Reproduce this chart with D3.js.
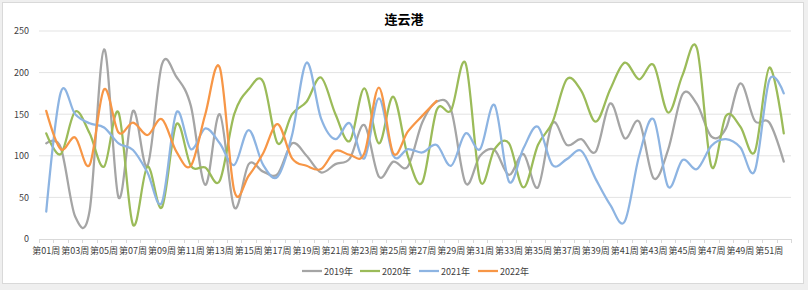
<!DOCTYPE html>
<html>
<head>
<meta charset="utf-8">
<script src="https://cdn.jsdelivr.net/npm/d3@7"></script>
<style>
  body { margin: 0; background: #efefef; }
  text { font-family: "Noto Sans CJK SC", "Noto Sans", sans-serif; }
</style>
</head>
<body>
<div id="chart"></div>
<script>
// weeks 第01周 .. 第52周
var weeks = d3.range(1, 53).map(function(i) { return "第" + (i < 10 ? "0" + i : i) + "周"; });

var seriesNames = ["2019年", "2020年", "2021年", "2022年"];
var seriesColors = ["#a5a5a5", "#9bbb59", "#8db4e2", "#f79646"];

var y2019 = [115, 110, 27, 34, 228, 50, 154, 88, 210, 195, 160, 65, 150, 38, 90, 81, 78, 115, 100, 80,
  90, 97, 137, 75, 93, 87, 140, 165, 155, 67, 100, 107, 77, 102, 62, 139, 113, 120, 105, 163,
  121, 141, 73, 107, 174, 162, 123, 133, 187, 142, 140, 93];
var y2020 = [127, 102, 153, 127, 87, 152, 17, 87, 38, 138, 88, 86, 70, 150, 180, 189, 115, 150, 165, 194,
  150, 118, 181, 115, 171, 100, 68, 155, 155, 211, 70, 108, 115, 62, 113, 140, 192, 178, 141, 180,
  212, 192, 209, 152, 197, 229, 87, 148, 135, 105, 206, 127];
var y2021 = [33, 176, 150, 139, 134, 115, 107, 80, 44, 152, 108, 133, 115, 89, 131, 89, 75, 125, 212, 145,
  120, 139, 97, 169, 100, 108, 104, 113, 88, 127, 108, 161, 69, 109, 135, 89, 96, 106, 72, 41,
  21, 100, 144, 63, 95, 84, 112, 120, 110, 82, 191, 175];
var y2022 = [154, 108, 122, 89, 180, 128, 140, 125, 144, 105, 88, 150, 206, 58, 76, 103, 138, 97, 88, 84,
  106, 101, 103, 182, 103, 129, 148, 166];

var allSeries = [y2019, y2020, y2021, y2022];
var yTicks = [0, 50, 100, 150, 200, 250];

var svgWidth = 808;
var svgHeight = 290;
var margin = { top: 31, right: 17, bottom: 51, left: 39 };
var width = svgWidth - margin.left - margin.right;
var height = svgHeight - margin.top - margin.bottom;

var svg = d3.select("#chart")
  .append("svg")
  .attr("width", svgWidth)
  .attr("height", svgHeight)
  .style("display", "block");

// chart area with light border
svg.append("rect")
  .attr("x", 2.5)
  .attr("y", 2.5)
  .attr("width", 801)
  .attr("height", 281)
  .attr("fill", "#fff")
  .attr("stroke", "#d9d9d9");

svg.append("text")
  .attr("x", svgWidth / 2)
  .attr("y", 24)
  .attr("text-anchor", "middle")
  .attr("font-size", "13px")
  .attr("font-weight", "bold")
  .attr("fill", "#000")
  .text("连云港");

var chartGroup = svg.append("g")
  .attr("transform", `translate(${margin.left}, ${margin.top})`);

var xBand = d3.scaleBand()
  .domain(weeks)
  .range([0, width]);

var yLinearScale = d3.scaleLinear()
  .domain([0, 250])
  .range([height, 0]);

// gridlines
chartGroup.append("g")
  .selectAll("line")
  .data(yTicks.slice(1))
  .enter()
  .append("line")
  .attr("x1", 0)
  .attr("x2", width)
  .attr("y1", d => yLinearScale(d))
  .attr("y2", d => yLinearScale(d))
  .attr("stroke", "#e3e3e3")
  .attr("stroke-width", 1);

// y axis labels (no line)
var leftAxis = d3.axisLeft(yLinearScale).tickValues(yTicks).tickSize(0).tickPadding(10);
var yAxis = chartGroup.append("g").call(leftAxis);
yAxis.select(".domain").remove();
yAxis.selectAll("text").attr("font-size", "9px").attr("fill", "#404040")
  .style("font-family", '"Noto Sans CJK SC", sans-serif');

// x axis: ticks on band boundaries, labels every other week
var xAxis = chartGroup.append("g")
  .attr("transform", `translate(0, ${height})`);

xAxis.append("line")
  .attr("x1", 0).attr("x2", width)
  .attr("y1", 0.5).attr("y2", 0.5)
  .attr("stroke", "#d9d9d9");

xAxis.selectAll(".tickmark")
  .data(d3.range(weeks.length + 1))
  .enter()
  .append("line")
  .attr("class", "tickmark")
  .attr("x1", i => Math.round(i * xBand.step()) + 0.5)
  .attr("x2", i => Math.round(i * xBand.step()) + 0.5)
  .attr("y1", 0)
  .attr("y2", 4)
  .attr("stroke", "#d9d9d9");

xAxis.selectAll(".xlabel")
  .data(weeks.filter((w, i) => i % 2 === 0))
  .enter()
  .append("text")
  .attr("class", "xlabel")
  .attr("x", d => xBand(d) + xBand.bandwidth() / 2)
  .attr("y", 15)
  .attr("text-anchor", "middle")
  .attr("font-size", "9px")
  .attr("fill", "#404040")
  .text(d => d);

// lines
var line = d3.line()
  .x((d, i) => xBand(weeks[i]) + xBand.bandwidth() / 2)
  .y(d => yLinearScale(d))
  .curve(d3.curveCardinal.tension(0));

chartGroup.selectAll(".series")
  .data(allSeries)
  .enter()
  .append("path")
  .attr("class", "series")
  .attr("d", d => line(d))
  .attr("fill", "none")
  .attr("stroke", (d, i) => seriesColors[i])
  .attr("stroke-width", 2.25)
  .attr("stroke-linejoin", "round")
  .attr("stroke-linecap", "round");

// legend
var legendX = [302, 360, 419, 478];
var legend = svg.append("g").attr("transform", "translate(0, 271)");
seriesNames.forEach(function(name, i) {
  legend.append("line")
    .attr("x1", legendX[i]).attr("x2", legendX[i] + 20)
    .attr("y1", 0).attr("y2", 0)
    .attr("stroke", seriesColors[i])
    .attr("stroke-width", 2.25);
  legend.append("text")
    .attr("x", legendX[i] + 22)
    .attr("y", 3.5)
    .attr("font-size", "9px")
    .attr("fill", "#404040")
    .text(name);
});
</script>
</body>
</html>
